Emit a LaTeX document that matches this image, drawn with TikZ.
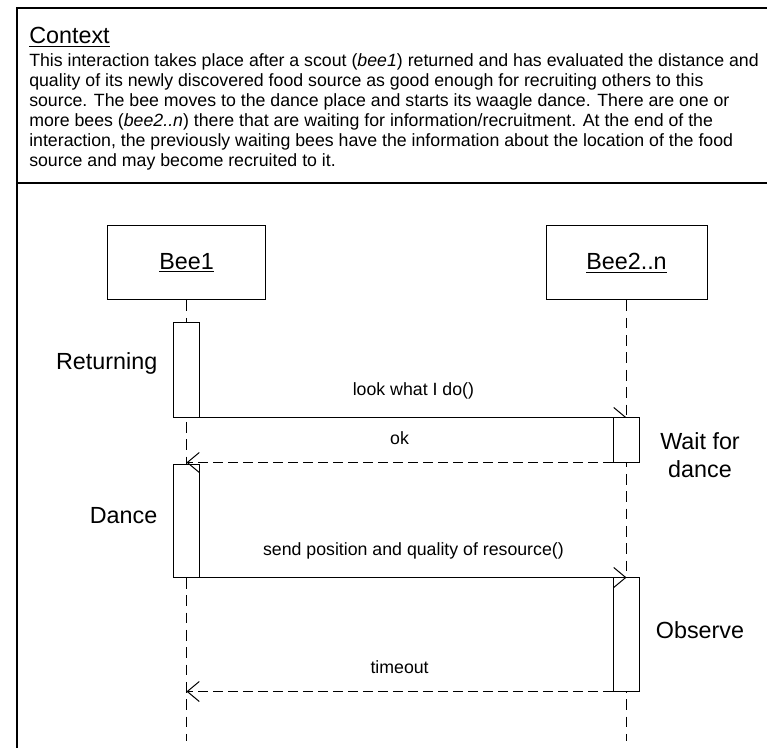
\documentclass[tikz,border=0pt]{standalone}
\usepackage{fontspec}
\setmainfont{Liberation Sans}
\usetikzlibrary{arrows.meta}
\tikzset{%
    lifebox/.style={draw, line width=0.75pt, minimum width=119pt, minimum height=55.5pt,
        font=\fontsize{17.5}{21}\selectfont},
    activation/.style={draw, fill=white, line width=0.75pt, minimum width=20pt, inner sep=0pt},
    lifeline/.style={line width=0.75pt, dash pattern=on 8pt off 5pt},
    call/.style={line width=0.75pt, -{Straight Barb[length=9pt,width=15pt]}},
    reply/.style={call, dash pattern=on 7.5pt off 3.75pt},
    msglabel/.style={midway, above=10pt, font=\fontsize{13.3}{15}\selectfont},
    state/.style={align=center, font=\fontsize{17.5}{21}\selectfont}
}

\begin{document}
\begin{tikzpicture}[x=0.75pt,y=-0.75pt]
    \useasboundingbox (0,0) rectangle (767,748);
    % outer frame and header line
    \draw[line width=1.5pt] (767,8) -- (17,8) -- (17,748);
    \draw[line width=1.5pt] (17,183) -- (767,183);
    \node[anchor=base west, inner sep=0pt, font=\fontsize{17.5}{21}\selectfont] (title) at (29,44) {\underline{Context}};
    \node[anchor=north west, align=left, inner sep=0pt, font=\fontsize{13.3}{15}\selectfont] (context) at (29,53) {%
        This interaction takes place after a scout (\textit{bee1}) returned and has evaluated the distance and\\
        quality of its newly discovered food source as good enough for recruiting others to this\\
        source. The bee moves to the dance place and starts its waagle dance. There are one or\\
        more bees (\textit{bee2..n}) there that are waiting for information/recruitment. At the end of the\\
        interaction, the previously waiting bees have the information about the location of the food\\
        source and may become recruited to it.};

    % objects and lifelines
    \node[lifebox] (bee1) at (186.5,263) {\underline{Bee1}};
    \node[lifebox, minimum width=120.75pt] (bee2) at (626.5,263) {\underline{Bee2..n}};
    \coordinate (end1) at (186.5,741);
    \coordinate (end2) at (626.5,741);
    \draw[lifeline] (bee1) -- (end1);
    \draw[lifeline] (bee2) -- (end2);

    % activations
    \node[activation, minimum height=70.5pt] (ret) at (186.5,370) {};
    \node[activation, minimum height=84.75pt] (dance) at (186.5,520.5) {};
    \node[activation, minimum height=85.5pt] (obs) at (626.5,634) {};

    % messages
    \draw[call] (ret.south east) -- (ret.south east -| bee2) node[msglabel] {look what I do()};
    \node[activation, minimum height=33.75pt] (wait) at (626.5,439.5) {};
    \draw[reply] (wait.south west) -- (wait.south west -| bee1) node[msglabel] {ok};
    \draw[call] (dance.south east) -- (dance.south east -| bee2) node[msglabel] {send position and quality of resource()};
    \draw[reply] (obs.south west) -- (obs.south west -| bee1) node[msglabel] {timeout};

    % states
    \node[state, anchor=east] (returning) at (162,363) {Returning};
    \node[state, anchor=east] (dancing) at (162,516) {Dance};
    \node[state] (waiting) at (700,455) {Wait for\\dance};
    \node[state] (observing) at (700,630) {Observe};
\end{tikzpicture}
\end{document}
